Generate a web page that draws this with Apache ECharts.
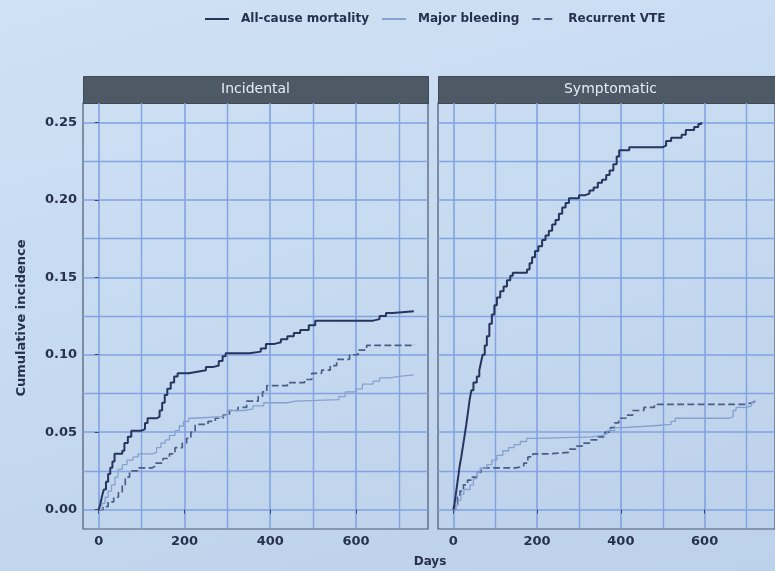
<!DOCTYPE html>
<html>
<head>
<meta charset="utf-8">
<script src="https://cdn.jsdelivr.net/npm/echarts@6/dist/echarts.min.js"></script>
<style>
  html, body { margin: 0; padding: 0; }
  #chart {
    width: 775px; height: 571px;
    background: linear-gradient(165deg, #cfe1f4 0%, #c6daf0 45%, #bcd1ea 100%);
  }
</style>
</head>
<body>
<div id="chart"></div>
<script>
// Cumulative incidence step curves: [day, cumulative incidence]
const incidentalMortality = [
  [0,0],[4,0.004],[8,0.009],[12,0.013],[17,0.018],[22,0.023],[27,0.027],[32,0.031],[37,0.036],
  [55,0.038],[60,0.043],[68,0.047],[76,0.051],[100,0.052],[108,0.056],[114,0.059],[136,0.060],
  [142,0.064],[148,0.069],[154,0.074],[160,0.078],[168,0.082],[176,0.086],[184,0.088],[210,0.089],
  [230,0.090],[250,0.092],[266,0.093],[280,0.096],[289,0.099],[296,0.101],[352,0.102],[378,0.104],
  [390,0.107],[410,0.108],[425,0.110],[440,0.112],[455,0.114],[470,0.116],[490,0.119],[505,0.122],
  [640,0.123],[655,0.125],[670,0.127],[686,0.128],[735,0.128]
];
const incidentalBleeding = [
  [0,0],[8,0.004],[15,0.008],[22,0.012],[30,0.016],[38,0.021],[45,0.026],[55,0.029],[66,0.032],
  [80,0.034],[92,0.036],[125,0.037],[135,0.040],[145,0.043],[155,0.045],[165,0.048],[178,0.051],
  [188,0.054],[198,0.057],[210,0.059],[222,0.060],[285,0.061],[300,0.064],[340,0.065],[360,0.067],
  [385,0.069],[440,0.070],[460,0.071],[560,0.073],[575,0.076],[600,0.078],[615,0.081],[640,0.083],
  [655,0.085],[680,0.086],[700,0.087],[735,0.087]
];
const incidentalVTE = [
  [0,0],[10,0.002],[22,0.005],[35,0.008],[46,0.011],[55,0.016],[62,0.021],[72,0.025],[90,0.027],
  [125,0.028],[132,0.030],[150,0.033],[165,0.036],[178,0.040],[195,0.043],[205,0.046],[215,0.050],
  [225,0.055],[255,0.057],[272,0.059],[290,0.061],[305,0.064],[325,0.066],[345,0.070],[372,0.073],
  [382,0.076],[392,0.080],[440,0.082],[480,0.084],[497,0.088],[520,0.090],[540,0.093],[555,0.097],
  [585,0.100],[605,0.103],[625,0.106],[735,0.107]
];
const symptomaticMortality = [
  [0,0],[3,0.004],[6,0.010],[9,0.016],[12,0.022],[15,0.028],[19,0.034],[23,0.041],[27,0.048],
  [31,0.055],[35,0.063],[39,0.071],[43,0.077],[48,0.082],[56,0.086],[62,0.090],[66,0.095],
  [70,0.100],[75,0.106],[80,0.112],[86,0.120],[92,0.126],[98,0.132],[104,0.137],[112,0.141],
  [120,0.144],[128,0.148],[136,0.151],[142,0.153],[176,0.155],[182,0.159],[188,0.163],[195,0.167],
  [203,0.170],[212,0.174],[220,0.177],[228,0.180],[236,0.184],[244,0.187],[252,0.191],[260,0.195],
  [268,0.198],[276,0.201],[300,0.203],[315,0.204],[325,0.206],[335,0.208],[345,0.211],[355,0.213],
  [365,0.216],[373,0.219],[382,0.223],[390,0.228],[396,0.232],[420,0.234],[500,0.235],[508,0.238],
  [520,0.240],[545,0.242],[555,0.245],[575,0.247],[585,0.249],[592,0.250]
];
const symptomaticBleeding = [
  [0,0],[6,0.003],[12,0.006],[18,0.010],[25,0.013],[40,0.016],[48,0.020],[56,0.024],[64,0.027],
  [80,0.029],[92,0.032],[104,0.035],[118,0.038],[132,0.040],[145,0.042],[160,0.044],[175,0.046],
  [195,0.047],[330,0.048],[355,0.049],[368,0.051],[385,0.053],[405,0.054],[470,0.055],[520,0.057],
  [530,0.059],[660,0.060],[668,0.064],[675,0.066],[700,0.067],[712,0.069],[720,0.071]
];
const symptomaticVTE = [
  [0,0],[5,0.004],[10,0.008],[16,0.012],[24,0.016],[34,0.019],[45,0.021],[56,0.024],[66,0.027],
  [150,0.028],[168,0.030],[178,0.034],[190,0.036],[230,0.037],[275,0.039],[292,0.041],[308,0.043],
  [325,0.045],[345,0.047],[362,0.050],[375,0.053],[385,0.056],[395,0.059],[412,0.061],[428,0.064],
  [455,0.066],[480,0.068],[700,0.069],[712,0.070],[722,0.071]
];

const panelNames = ['Incidental', 'Symptomatic'];
const seriesNames = ['All-cause mortality', 'Major bleeding', 'Recurrent VTE'];
const xMajorTicks = [0, 200, 400, 600];
const xMinorTicks = [100, 300, 500, 700];
const yMajorTicks = [0, 0.05, 0.10, 0.15, 0.20, 0.25];
const yMinorTicks = [0.025, 0.075, 0.125, 0.175, 0.225];

const X_MIN = -36.6, X_MAX = 768;
const Y_MIN = -0.0125, Y_MAX = 0.2625;

const inkColor = '#27314e';
const gridColor = '#82a2e2';
const labelFont = 'DejaVu Sans';

const lineStyles = [
  { color: '#26345e', width: 2, type: 'solid' },
  { color: '#86a0d0', width: 1.3, type: 'solid' },
  { color: '#4a5d88', width: 1.7, type: 'dashed' }
];

const panels = [
  { left: 83, curves: [incidentalMortality, incidentalBleeding, incidentalVTE], showY: true },
  { left: 438, curves: [symptomaticMortality, symptomaticBleeding, symptomaticVTE], showY: false }
];
const PANEL_TOP = 103, PANEL_W = 345, PANEL_H = 426, STRIP_H = 27;

const grids = [], xAxes = [], yAxes = [], series = [], graphics = [];

panels.forEach((p, i) => {
  grids.push({
    left: p.left, top: PANEL_TOP, width: PANEL_W, height: PANEL_H,
    show: true, backgroundColor: 'transparent',
    borderColor: '#4c5872', borderWidth: 1.2
  });
  // major x axis with labels
  xAxes.push({
    type: 'value', gridIndex: i, min: X_MIN, max: X_MAX,
    axisLine: { show: false },
    axisTick: { show: true, length: 4, customValues: xMajorTicks, lineStyle: { color: '#3a4560', width: 1 } },
    axisLabel: { customValues: xMajorTicks, margin: 6, color: inkColor, fontFamily: labelFont, fontWeight: 'bold', fontSize: 13 },
    splitLine: { show: true, lineStyle: { color: gridColor, width: 1.6 } }
  });
  // minor x grid
  xAxes.push({
    type: 'value', gridIndex: i, min: X_MIN, max: X_MAX,
    axisLine: { show: false },
    axisTick: { show: false, customValues: xMinorTicks },
    axisLabel: { show: false, customValues: xMinorTicks },
    splitLine: { show: true, lineStyle: { color: gridColor, width: 1.4 } }
  });
  yAxes.push({
    type: 'value', gridIndex: i, min: Y_MIN, max: Y_MAX,
    axisLine: { show: false },
    axisTick: { show: p.showY, length: 4, customValues: yMajorTicks, lineStyle: { color: '#3a4560', width: 1 } },
    axisLabel: {
      show: p.showY, customValues: yMajorTicks, margin: 6, color: inkColor,
      fontFamily: labelFont, fontWeight: 'bold', fontSize: 13,
      formatter: v => v.toFixed(2)
    },
    splitLine: { show: true, lineStyle: { color: gridColor, width: 1.6 } }
  });
  yAxes.push({
    type: 'value', gridIndex: i, min: Y_MIN, max: Y_MAX,
    axisLine: { show: false },
    axisTick: { show: false, customValues: yMinorTicks },
    axisLabel: { show: false, customValues: yMinorTicks },
    splitLine: { show: true, lineStyle: { color: gridColor, width: 1.4 } }
  });
  p.curves.forEach((data, k) => {
    series.push({
      type: 'line', name: seriesNames[k], data: data,
      xAxisIndex: i * 2, yAxisIndex: i * 2,
      step: 'end', symbol: 'none', silent: true,
      lineStyle: lineStyles[k], itemStyle: { color: lineStyles[k].color },
      z: 5 - k
    });
  });
  // facet strip
  graphics.push({
    type: 'rect', left: p.left, top: PANEL_TOP - STRIP_H,
    shape: { width: PANEL_W, height: STRIP_H },
    style: { fill: '#4e5966', stroke: '#3f4854', lineWidth: 1 }
  });
  graphics.push({
    type: 'text', x: p.left + PANEL_W / 2, y: PANEL_TOP - STRIP_H / 2,
    style: {
      text: panelNames[i], fill: '#e4ebf3', font: '14px "DejaVu Sans"',
      align: 'center', verticalAlign: 'middle'
    }
  });
});

graphics.push({
  type: 'text', x: 430, y: 562,
  style: { text: 'Days', fill: inkColor, font: 'bold 12px "DejaVu Sans"', align: 'center', verticalAlign: 'middle' }
});
graphics.push({
  type: 'text', x: 22, y: 318, rotation: Math.PI / 2,
  style: { text: 'Cumulative incidence', fill: inkColor, font: 'bold 13px "DejaVu Sans"', align: 'center', verticalAlign: 'middle' }
});

const chart = echarts.init(document.getElementById('chart'), null, { renderer: 'canvas' });
chart.setOption({
  backgroundColor: 'transparent',
  animation: false,
  legend: {
    data: seriesNames,
    left: 199, top: 8,
    itemWidth: 24, itemHeight: 12, itemGap: 12,
    itemStyle: { opacity: 0, borderWidth: 0 },
    textStyle: { color: inkColor, fontFamily: labelFont, fontWeight: 'bold', fontSize: 12, padding: [0, 0, 0, 7] }
  },
  grid: grids,
  xAxis: xAxes,
  yAxis: yAxes,
  series: series,
  graphic: graphics
});
</script>
</body>
</html>
